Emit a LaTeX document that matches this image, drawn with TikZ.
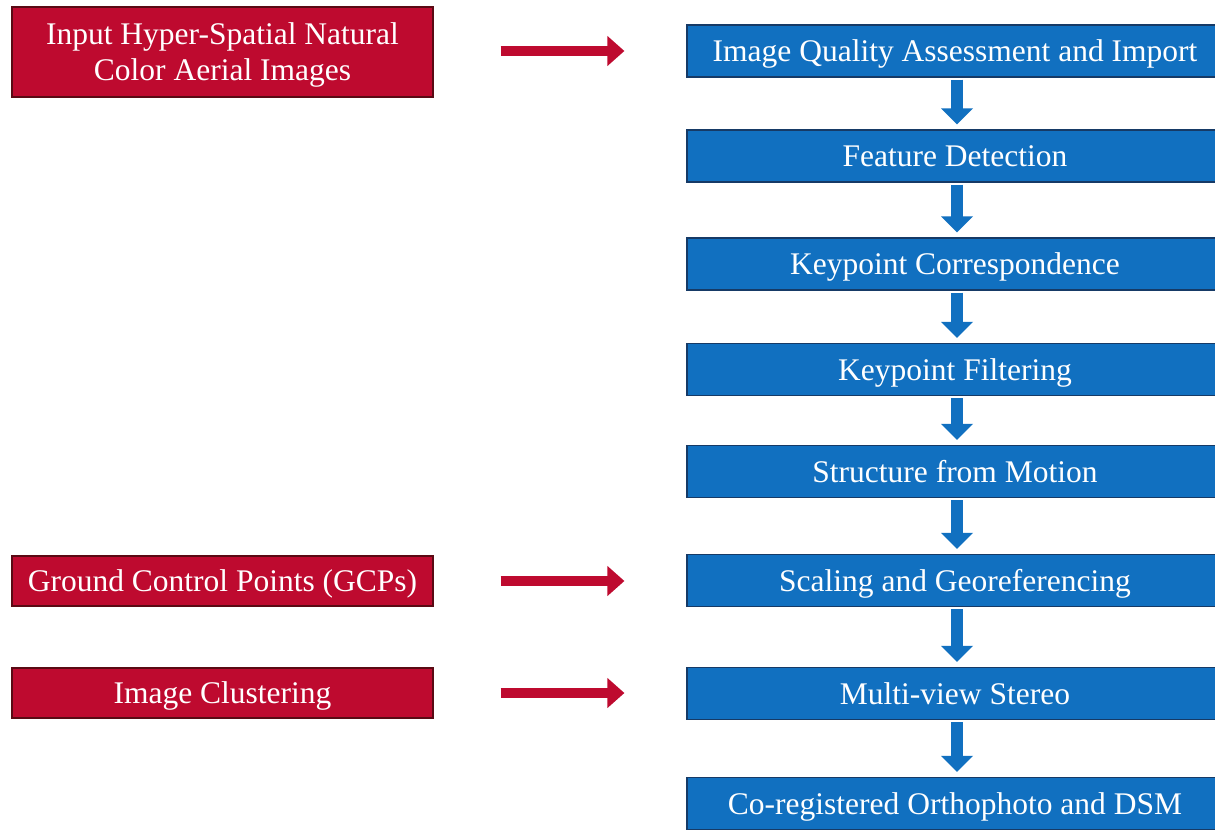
\documentclass[tikz,border=0pt]{standalone}
\usepackage{fontspec}
\setmainfont{Liberation Serif}
\usetikzlibrary{arrows.meta}
\definecolor{redfill}{HTML}{BE0A2F}
\definecolor{redline}{HTML}{5A0A14}
\definecolor{bluefill}{HTML}{1170C0}
\definecolor{blueline}{HTML}{163A66}
\tikzset{
  redbox/.style={draw=redline, line width=1.2pt, fill=redfill, text=white, minimum width=421pt, align=center, inner sep=0pt, text height=21pt, text depth=0pt, font=\fontsize{31.5}{36}\selectfont},
  bluebox/.style={draw=blueline, line width=1.2pt, fill=bluefill, text=white, minimum width=536pt, minimum height=52pt, inner sep=0pt, text height=21pt, text depth=0pt, font=\fontsize{31.5}{36}\selectfont},
  downarrow/.style={draw=bluefill, line width=12pt, -{Triangle[width=31pt,length=16pt]}, shorten <=2pt, shorten >=5pt},
  rightarrow/.style={draw=redfill, line width=10pt, -{Triangle[width=29pt,length=17pt]}, shorten <=67pt, shorten >=62pt}
}
\begin{document}
\begin{tikzpicture}[x=1pt,y=-1pt]
\useasboundingbox (0,0) rectangle (1215,833);
\fill[white] (0,0) rectangle (1215,833);
\node[redbox, minimum height=90pt, text height=57pt] (r1) at (222.5,52) {Input Hyper-Spatial Natural\\Color Aerial Images};
\node[redbox, minimum height=50pt] (r2) at (222.5,581) {Ground Control Points (GCPs)};
\node[redbox, minimum height=50pt] (r3) at (222.5,693) {Image Clustering};
\node[bluebox] (b1) at (955,51) {Image Quality Assessment and Import};
\node[bluebox] (b2) at (955,156) {Feature Detection};
\node[bluebox] (b3) at (955,264) {Keypoint Correspondence};
\node[bluebox] (b4) at (955,369.5) {Keypoint Filtering};
\node[bluebox] (b5) at (955,471.5) {Structure from Motion};
\node[bluebox] (b6) at (955,580.5) {Scaling and Georeferencing};
\node[bluebox] (b7) at (955,693.5) {Multi-view Stereo};
\node[bluebox] (b8) at (955,803.5) {Co-registered Orthophoto and DSM};
\foreach \a/\b in {b1/b2,b2/b3,b3/b4,b4/b5,b5/b6,b6/b7,b7/b8}
  \draw[downarrow] ([xshift=2pt]\a.south) -- ([xshift=2pt]\b.north);
\draw[rightarrow] (r1.east |- b1) -- (b1.west);
\draw[rightarrow] (r2.east) -- (b6.west |- r2);
\draw[rightarrow] (r3.east) -- (b7.west |- r3);
\end{tikzpicture}
\end{document}
